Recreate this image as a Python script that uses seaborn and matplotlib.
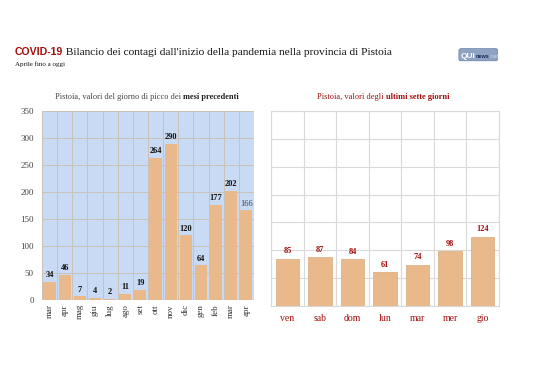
import numpy as np
import pandas as pd
import seaborn as sns
import matplotlib.pyplot as plt
from matplotlib.patches import FancyBboxPatch

# Dati
mesi = ['mar', 'apr', 'mag', 'giu', 'lug', 'ago', 'set', 'ott', 'nov', 'dic', 'gen', 'feb', 'mar', 'apr']
picchi = [34, 46, 7, 4, 2, 11, 19, 264, 290, 120, 64, 177, 202, 166]
giorni = ['ven', 'sab', 'dom', 'lun', 'mar', 'mer', 'gio']
ultimi = [85, 87, 84, 61, 74, 98, 124]

sns.set_style('white')
plt.rcParams['font.family'] = ['Liberation Serif', 'DejaVu Serif']

bar_col = '#e9b98b'
red = '#a30d0d'
sans = ['Liberation Sans', 'DejaVu Sans']

df_m = pd.DataFrame({'id': [f'{m}{i}' for i, m in enumerate(mesi)], 'valore': picchi})
df_g = pd.DataFrame({'giorno': giorni, 'valore': ultimi})

fig = plt.figure(figsize=(5.38, 3.8), dpi=100)
ax1 = fig.add_axes([0.078, 0.2105, 0.394, 0.497])
ax2 = fig.add_axes([0.504, 0.195, 0.4235, 0.513])

# grafico mesi
sns.barplot(data=df_m, x='id', y='valore', color=bar_col, width=0.8, saturation=1,
            edgecolor=bar_col, linewidth=0, ax=ax1, zorder=3)
ax1.set_facecolor('#c8daf4')
ax1.set_ylim(0, 350)
ax1.set_xlim(-0.5, len(mesi) - 0.5)
ax1.set_yticks(range(0, 351, 50))
ax1.set_xticks(range(len(mesi)))
ax1.set_xticklabels(mesi, rotation=90, fontsize=6.5, color='#333333')
ax1.set_xticks(np.arange(-0.5, len(mesi)), minor=True)
ax1.tick_params(axis='y', labelsize=6.5, labelcolor='#444444', length=0, pad=6)
ax1.tick_params(axis='x', which='major', length=0, pad=3)
ax1.tick_params(axis='x', which='minor', length=3, color='#cbc4ba', width=0.6)
ax1.grid(axis='y', color='#c9c2b8', linewidth=0.7, zorder=0)
ax1.grid(axis='x', which='minor', color='#c9c2b8', linewidth=0.7, zorder=0)
for s in ax1.spines.values():
    s.set_visible(False)
ax1.set_xlabel('')
ax1.set_ylabel('')
for i, v in enumerate(picchi):
    bold = i != len(picchi) - 1
    ax1.text(i, v + 5, str(v), ha='center', va='bottom', fontsize=6,
             fontweight='bold' if bold else 'normal', color='#111111' if bold else '#444444', zorder=4)

# grafico giorni
sns.barplot(data=df_g, x='giorno', y='valore', color=bar_col, width=0.72, saturation=1,
            edgecolor='#d9a878', linewidth=0.5, ax=ax2, zorder=3)
ax2.set_ylim(0, 350)
ax2.set_xlim(-0.5, len(giorni) - 0.5)
ax2.set_yticks(range(0, 351, 50))
ax2.set_yticklabels([])
ax2.set_xticks(np.arange(-0.5, len(giorni)), minor=True)
ax2.tick_params(axis='both', which='both', length=0)
ax2.tick_params(axis='x', labelsize=7, labelcolor=red, pad=6)
ax2.grid(axis='y', color='#d9d9d9', linewidth=0.8, zorder=0)
ax2.grid(axis='x', which='minor', color='#d9d9d9', linewidth=0.8, zorder=0)
for s in ax2.spines.values():
    s.set_color('#d9d9d9')
    s.set_linewidth(0.8)
ax2.set_xlabel('')
ax2.set_ylabel('')
for i, v in enumerate(ultimi):
    ax2.text(i, v + 6, str(v), ha='center', va='bottom', fontsize=6,
             fontweight='bold', color=red, zorder=4)


# testi in sequenza sulla stessa riga
renderer = fig.canvas.get_renderer()


def riga(x, y, pezzi, gap=0.0):
    for testo, kw in pezzi:
        t = fig.text(x, y, testo, va='baseline', **kw)
        bb = t.get_window_extent(renderer)
        x += bb.width / fig.bbox.width + gap


riga(0.028, 0.855, [('COVID-19', dict(fontsize=7.6, fontweight='bold', color=red, family=sans)),
                    (" Bilancio dei contagi dall'inizio della pandemia nella provincia di Pistoia",
                     dict(fontsize=8.2, color='#111111'))])
fig.text(0.028, 0.826, 'Aprile fino a oggi', fontsize=5, color='#111111', va='baseline')
riga(0.102, 0.739, [('Pistoia, valori del giorno di picco dei ', dict(fontsize=6, color='#444444')),
                    ('mesi precedenti', dict(fontsize=6, fontweight='bold', color='#222222'))])
riga(0.589, 0.739, [('Pistoia, valori degli ', dict(fontsize=6, color=red)),
                    ('ultimi sette giorni', dict(fontsize=6, fontweight='bold', color=red))])

# logo
fig.patches.append(FancyBboxPatch((0.853, 0.84), 0.072, 0.032, boxstyle='round,pad=0,rounding_size=0.004',
                                  transform=fig.transFigure, facecolor='#8ea3c4', edgecolor='#6a80a8',
                                  linewidth=0.5))
riga(0.857, 0.848, [('QUI', dict(fontsize=6, fontweight='bold', color='white', family=sans)),
                    ('news', dict(fontsize=4, fontweight='bold', color='#1a2a55', family=sans)),
                    ('.net', dict(fontsize=4, color='#d0dbee', family=sans))])

fig.savefig('out.png', dpi=100)
